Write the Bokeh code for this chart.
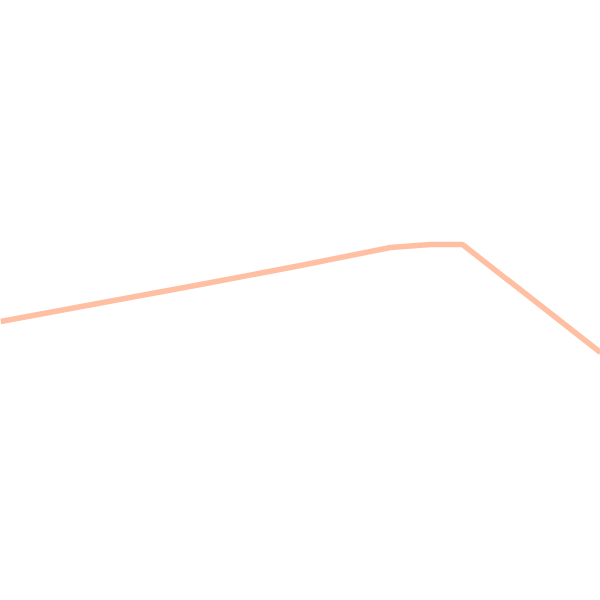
from bokeh.plotting import figure
from bokeh.models import Range1d
from bokeh.embed import file_html
from bokeh.resources import INLINE

# values (screen-like units, y grows downward)
x_vals = [0, 200, 300, 390, 430, 462, 600]
y_vals = [321, 284, 265, 247, 244, 244, 352]

p = figure(width=600, height=600, output_backend="svg", toolbar_location=None,
           x_range=Range1d(0, 600), y_range=Range1d(600, 0),
           min_border=0, min_border_left=0, min_border_right=0,
           min_border_top=0, min_border_bottom=0)
p.axis.visible = False
p.grid.visible = False
p.outline_line_color = None
p.background_fill_color = "white"
p.border_fill_color = "white"

p.line(x_vals, y_vals, line_color="#FFBFA2", line_width=5.5, line_join="round")

open("out.html", "w").write(file_html(p, INLINE))
